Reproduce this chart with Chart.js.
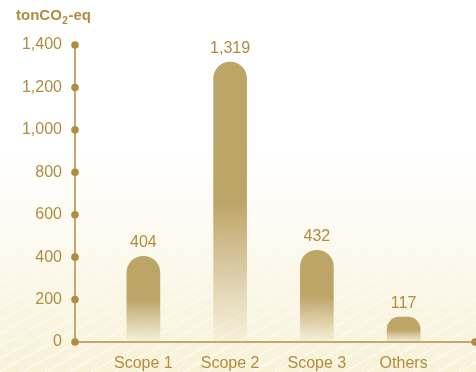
<!DOCTYPE html>
<html>
<head>
<meta charset="utf-8">
<script src="https://cdn.jsdelivr.net/npm/chart.js@4.4.0/dist/chart.umd.min.js"></script>
<style>
  html, body { margin: 0; padding: 0; background: #fff; }
  #wrap { width: 476px; height: 372px; position: relative; }
</style>
</head>
<body>
<div id="wrap"><canvas id="chart"></canvas></div>
<script>
const categories = ['Scope 1', 'Scope 2', 'Scope 3', 'Others'];
const emissions = [404, 1319, 432, 117];
const unitLabel = ['tonCO', '2', '-eq'];

const gold = '#B08D3E';
const barGold = '189, 164, 103';
const font = '"Liberation Sans", Arial, sans-serif';

// background wash + diagonal hatching
const backdrop = {
    id: 'backdrop',
    beforeDraw(chart) {
        const { ctx, width, height } = chart;
        ctx.save();
        const bg = ctx.createLinearGradient(0, 0, 0, height);
        bg.addColorStop(0, '#ffffff');
        bg.addColorStop(0.4, '#ffffff');
        bg.addColorStop(1, '#F8F2D9');
        ctx.fillStyle = bg;
        ctx.fillRect(0, 0, width, height);

        const st = ctx.createLinearGradient(0, 200, 0, height);
        st.addColorStop(0, 'rgba(255,255,255,0)');
        st.addColorStop(1, 'rgba(255,255,255,0.95)');
        ctx.strokeStyle = st;
        ctx.lineWidth = 1;
        const slope = 0.55;
        for (let x0 = -300; x0 < width + 300; x0 += 23) {
            ctx.beginPath();
            ctx.moveTo(x0, height);
            ctx.lineTo(x0 + 300, height - 300 * slope);
            ctx.stroke();
        }
        ctx.restore();
    }
};

// axis lines, dots, value labels, unit title
const decor = {
    id: 'decor',
    afterDatasetsDraw(chart) {
        const { ctx, scales: { x, y }, width } = chart;
        const ax = chart.chartArea.left - 25;
        const base = y.getPixelForValue(0);
        ctx.save();
        ctx.strokeStyle = '#C2A86C';
        ctx.lineWidth = 2;
        ctx.beginPath();
        ctx.moveTo(ax, y.getPixelForValue(1400));
        ctx.lineTo(ax, base);
        ctx.lineTo(width, base);
        ctx.stroke();

        ctx.fillStyle = gold;
        y.ticks.forEach(t => {
            ctx.beginPath();
            ctx.arc(ax, y.getPixelForValue(t.value), 3.8, 0, Math.PI * 2);
            ctx.fill();
        });
        ctx.beginPath();
        ctx.arc(width - 1, base, 3.8, 0, Math.PI * 2);
        ctx.fill();

        ctx.font = '16px ' + font;
        ctx.textAlign = 'center';
        ctx.textBaseline = 'alphabetic';
        chart.getDatasetMeta(0).data.forEach((bar, i) => {
            ctx.fillText(emissions[i].toLocaleString('en-US'), bar.x, bar.y - 9);
        });

        ctx.textAlign = 'left';
        ctx.font = 'bold 15px ' + font;
        let tx = 16;
        const ty = 20;
        ctx.fillText(unitLabel[0], tx, ty);
        tx += ctx.measureText(unitLabel[0]).width;
        ctx.font = 'bold 10px ' + font;
        ctx.fillText(unitLabel[1], tx + 0.5, ty + 4);
        tx += ctx.measureText(unitLabel[1]).width + 1;
        ctx.font = 'bold 15px ' + font;
        ctx.fillText(unitLabel[2], tx, ty);
        ctx.restore();
    }
};

const ctx = document.getElementById('chart').getContext('2d');
new Chart(ctx, {
    type: 'bar',
    data: {
        labels: categories,
        datasets: [{
            data: emissions,
            barThickness: 33,
            borderRadius: { topLeft: 17, topRight: 17 },
            borderSkipped: 'bottom',
            backgroundColor(c) {
                const chart = c.chart;
                const area = chart.chartArea;
                if (!area || c.type !== 'data') return `rgb(${barGold})`;
                const y = chart.scales.y;
                const top = y.getPixelForValue(c.raw);
                const bottom = y.getPixelForValue(0);
                const g = chart.ctx.createLinearGradient(0, top, 0, bottom);
                g.addColorStop(0, `rgba(${barGold},1)`);
                g.addColorStop(0.5, `rgba(${barGold},1)`);
                g.addColorStop(1, `rgba(${barGold},0.04)`);
                return g;
            }
        }]
    },
    options: {
        responsive: true,
        maintainAspectRatio: false,
        animation: false,
        layout: { padding: { top: 45, right: 29, left: 0, bottom: 0 } },
        plugins: {
            legend: { display: false },
            tooltip: { enabled: false }
        },
        scales: {
            x: {
                grid: { display: false, drawTicks: false },
                border: { display: false },
                ticks: { color: gold, font: { family: font, size: 16 }, padding: 12 },
                afterFit(s) { s.height = 30; }
            },
            y: {
                min: 0,
                max: 1400,
                grid: { display: false, drawTicks: false },
                border: { display: false },
                ticks: {
                    stepSize: 200,
                    color: gold,
                    font: { family: font, size: 16 },
                    padding: 38,
                    callback: v => v.toLocaleString('en-US')
                },
                afterFit(s) {
                    s.width = 100;
                    s.paddingTop = 0;
                    s.paddingBottom = 0;
                }
            }
        }
    },
    plugins: [backdrop, decor]
});
</script>
</body>
</html>
